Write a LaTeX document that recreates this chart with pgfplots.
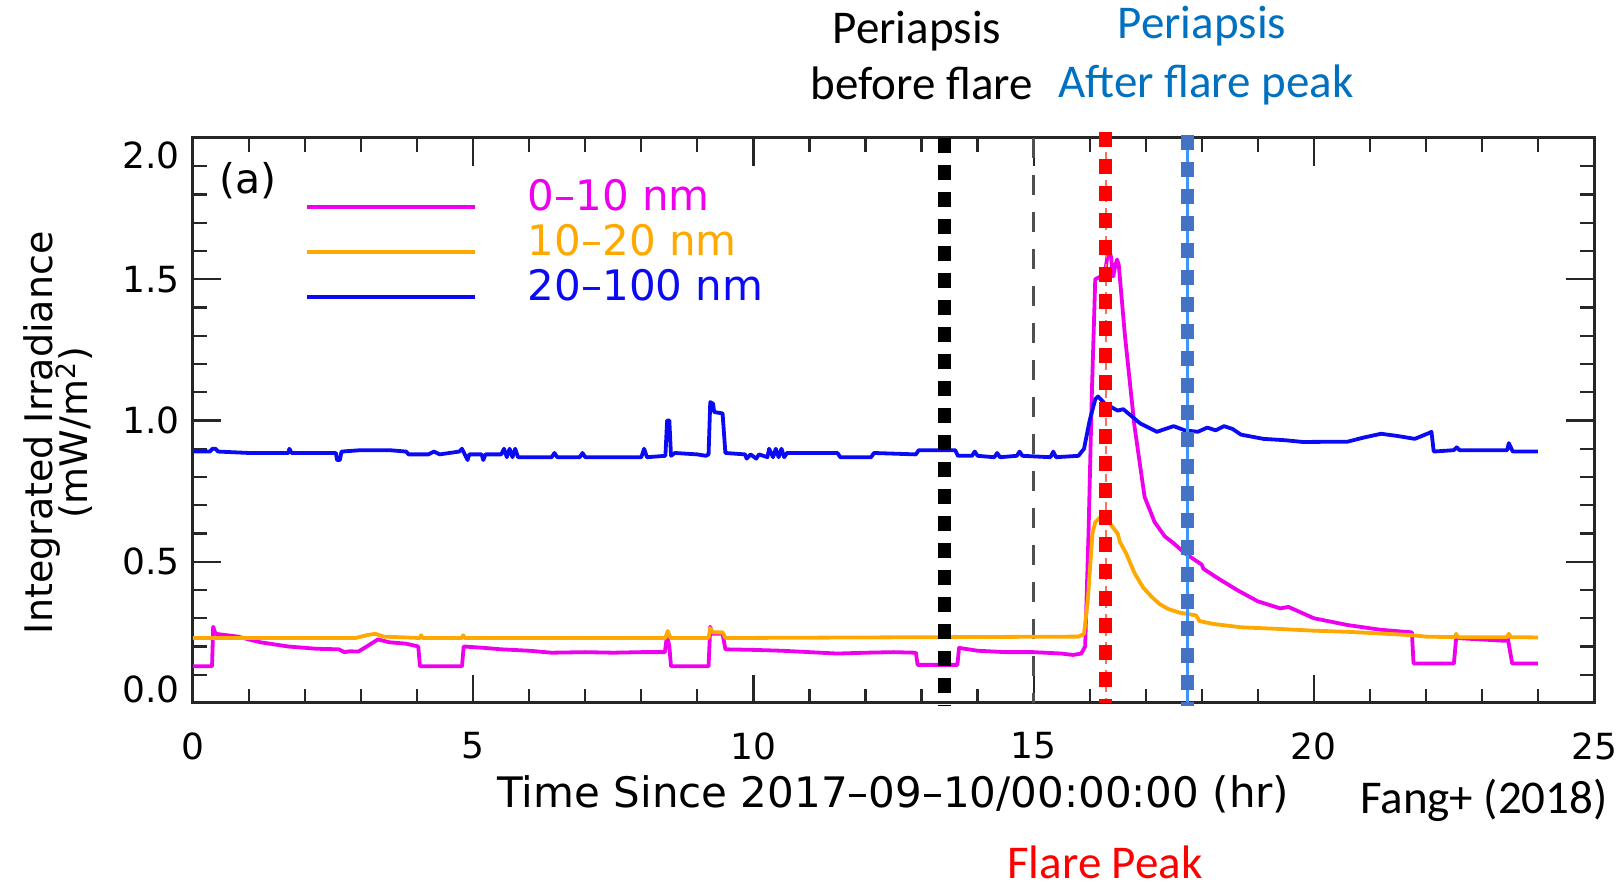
\documentclass[border=0pt]{standalone}
\usepackage{pgfplots}
\pgfplotsset{compat=1.18}
\usepackage{fontspec}
\setmainfont{DejaVu Sans}
\newfontfamily\calibrifont{Carlito}
\definecolor{mag}{RGB}{238,0,238}
\definecolor{orng}{RGB}{255,168,0}
\definecolor{blu}{RGB}{10,10,245}
\definecolor{offblue}{RGB}{68,114,196}
\definecolor{lightblue}{RGB}{60,150,255}
\definecolor{txtblue}{RGB}{0,112,192}
\definecolor{lightred}{RGB}{255,110,90}
\definecolor{dgray}{RGB}{80,80,80}
\begin{document}
\begin{tikzpicture}
\path[use as bounding box] (-95.5pt,-94.5pt) rectangle (715.5pt,351.5pt);
\begin{axis}[
  at={(1pt,0pt)}, anchor=south west,
  width=700.5pt, height=282.5pt, scale only axis,
  xmin=0, xmax=25, ymin=0, ymax=2,
  clip=false,
  xtick={0,5,...,25}, xticklabels={0,5,10,15,20,25},
  ytick={0,0.5,1,1.5,2},
  yticklabels={\raisebox{6.7pt}[\height][\depth]{0.0},0.5,1.0,1.5,\raisebox{-8.8pt}[\height][\depth]{2.0}},
  minor x tick num=4, minor y tick num=4,
  tick align=inside, xtick pos=both, ytick pos=both,
  major tick length=14pt, minor tick length=7pt,
  every tick/.style={black!85, line width=1.1pt},
  axis line style={black!85, line width=1.5pt},
  tick label style={font=\fontsize{18pt}{20pt}\selectfont},
  xticklabel style={inner sep=0pt, yshift=-14.5pt},
  yticklabel style={inner sep=0pt, xshift=-6.5pt},
  xlabel={Time Since 2017--09--10/00:00:00 (hr)},
  xlabel style={font=\fontsize{21pt}{24pt}\selectfont, at={(axis description cs:0.5,0)}, anchor=base, yshift=-52.5pt, inner sep=0pt},
  ylabel={Integrated Irradiance\\[-3.5pt](mW/m\textsuperscript{2})},
  ylabel style={font=\fontsize{19pt}{18pt}\selectfont, align=center, at={(axis description cs:-0.0713,0.478)}, anchor=south, inner sep=0pt},
  legend style={draw=none, fill=none, at={(axis cs:2.0,1.852)}, anchor=north west, inner sep=0pt, outer sep=0pt, row sep=5.4pt, column sep=25.5pt, font=\fontsize{21pt}{24pt}\selectfont, nodes={inner sep=0pt}},
  legend cell align=left,
  legend image code/.code={\draw[#1] (0pt,-5pt) -- (84pt,-5pt);},
]
% gray dashed line at 15 h
\addplot[dgray, line width=1.6pt, dash pattern=on 10pt off 8.5pt, forget plot] coordinates {(15.0,2) (15.0,0)};

\addplot[mag, line width=1.9pt, line join=round] coordinates {
(0,0.13) (0.34,0.13) (0.36,0.27) (0.4,0.245) (0.8,0.235) (1.2,0.215) (1.7,0.2) (2.2,0.192) (2.6,0.19) (2.7,0.18) (2.8,0.183) (2.95,0.182) (3.1,0.2) (3.3,0.225) (3.5,0.215) (3.8,0.21) (4.02,0.2) (4.05,0.13) (4.8,0.13) (4.83,0.2) (5.2,0.195) (5.5,0.19) (6.0,0.185) (6.4,0.178) (7.0,0.18) (7.5,0.178) (8.0,0.18) (8.42,0.18) (8.46,0.24) (8.5,0.2) (8.53,0.13) (9.2,0.13) (9.23,0.27) (9.26,0.245) (9.45,0.245) (9.5,0.19) (10.0,0.188) (10.5,0.185) (11.0,0.18) (11.5,0.175) (12.0,0.178) (12.5,0.18) (12.9,0.178) (12.93,0.135) (13.64,0.135) (13.67,0.195) (14.0,0.185) (14.5,0.18) (15.0,0.18) (15.5,0.175) (15.7,0.17) (15.85,0.175) (15.92,0.2) (15.98,0.6) (16.04,1.1) (16.1,1.5) (16.2,1.51) (16.27,1.52) (16.34,1.61) (16.38,1.58) (16.42,1.51) (16.46,1.55) (16.49,1.57) (16.52,1.55) (16.63,1.3) (16.8,0.98) (16.98,0.73) (17.16,0.64) (17.34,0.59) (17.5,0.565) (17.7,0.53) (17.85,0.51) (18.0,0.49) (18.03,0.475) (18.3,0.44) (18.63,0.40) (19.0,0.36) (19.4,0.335) (19.55,0.34) (20.0,0.3) (20.6,0.276) (21.2,0.259) (21.75,0.25) (21.78,0.14) (22.5,0.14) (22.54,0.23) (23.42,0.22) (23.46,0.23) (23.54,0.14) (24.0,0.14)
};
\addlegendentry{\textcolor{mag}{0--10 nm}}

\addplot[orng, line width=1.9pt, line join=round] coordinates {
(0,0.23) (2.9,0.23) (3.1,0.24) (3.25,0.245) (3.4,0.235) (4.05,0.23) (4.07,0.24) (4.1,0.23) (4.8,0.23) (4.82,0.24) (4.85,0.23) (8.43,0.23) (8.47,0.255) (8.52,0.23) (9.2,0.23) (9.23,0.265) (9.28,0.25) (9.45,0.25) (9.5,0.23) (15.8,0.235) (15.9,0.245) (15.97,0.37) (16.05,0.6) (16.1,0.64) (16.18,0.655) (16.3,0.655) (16.42,0.62) (16.5,0.6) (16.54,0.57) (16.65,0.53) (16.8,0.46) (16.95,0.41) (17.1,0.377) (17.25,0.35) (17.4,0.333) (17.6,0.32) (17.9,0.31) (17.96,0.29) (18.2,0.28) (18.7,0.268) (19.4,0.262) (20.0,0.256) (20.6,0.252) (21.2,0.246) (21.75,0.24) (22.0,0.235) (22.52,0.233) (22.54,0.245) (22.57,0.233) (23.45,0.233) (23.48,0.245) (23.52,0.233) (24.0,0.232)
};
\addlegendentry{\textcolor{orng}{10--20 nm}}

\addplot[blu, line width=1.9pt, line join=round] coordinates {
(0,0.89) (0.3,0.89) (0.35,0.9) (0.4,0.9) (0.45,0.89) (1.0,0.885) (1.7,0.885) (1.72,0.90) (1.76,0.885) (2.55,0.885) (2.57,0.86) (2.62,0.86) (2.65,0.89) (3.0,0.895) (3.5,0.895) (3.8,0.89) (3.85,0.88) (4.2,0.88) (4.3,0.89) (4.4,0.88) (4.75,0.89) (4.8,0.9) (4.85,0.88) (4.9,0.86) (4.93,0.88) (5.15,0.88) (5.18,0.86) (5.22,0.88) (5.5,0.88) (5.55,0.9) (5.6,0.87) (5.65,0.9) (5.7,0.87) (5.75,0.9) (5.8,0.87) (6.4,0.87) (6.45,0.885) (6.5,0.87) (6.9,0.87) (6.95,0.885) (7.0,0.87) (8.0,0.87) (8.05,0.9) (8.1,0.87) (8.43,0.875) (8.46,1.0) (8.5,1.0) (8.53,0.875) (8.6,0.885) (9.0,0.88) (9.15,0.875) (9.2,0.88) (9.23,1.065) (9.28,1.06) (9.3,1.03) (9.45,1.025) (9.5,0.885) (9.85,0.88) (9.88,0.865) (9.95,0.88) (10.05,0.865) (10.1,0.88) (10.25,0.87) (10.28,0.9) (10.35,0.87) (10.4,0.9) (10.45,0.87) (10.5,0.9) (10.55,0.87) (10.6,0.885) (11.5,0.885) (11.55,0.87) (12.1,0.87) (12.15,0.885) (12.9,0.88) (12.95,0.895) (13.6,0.895) (13.65,0.875) (13.9,0.875) (13.95,0.89) (14.0,0.875) (14.3,0.87) (14.35,0.885) (14.4,0.87) (14.7,0.875) (14.75,0.89) (14.8,0.875) (15.3,0.87) (15.35,0.89) (15.4,0.87) (15.8,0.875) (15.9,0.9) (16.0,1.0) (16.1,1.075) (16.15,1.085) (16.27,1.06) (16.5,1.035) (16.6,1.04) (16.9,0.99) (17.2,0.96) (17.5,0.98) (17.7,0.965) (17.93,0.96) (18.1,0.975) (18.25,0.965) (18.4,0.98) (18.55,0.97) (18.7,0.95) (19.1,0.935) (19.5,0.93) (19.8,0.924) (20.6,0.925) (20.9,0.94) (21.2,0.953) (21.5,0.945) (21.8,0.935) (22.05,0.955) (22.1,0.96) (22.14,0.89) (22.5,0.895) (22.55,0.905) (22.6,0.895) (23.45,0.895) (23.48,0.92) (23.55,0.89) (24.0,0.89)
};
\addlegendentry{\textcolor{blu}{20--100 nm}}

% periapsis before flare
\addplot[black, line width=6.5pt, dash pattern=on 7.5pt off 6pt, forget plot] coordinates {(13.41,2.0) (13.41,-0.01)};
% flare peak
\addplot[lightred, line width=1.2pt, dash pattern=on 4pt off 3pt, forget plot] coordinates {(16.29,2.0) (16.29,0)};
\addplot[red, line width=6.5pt, dash pattern=on 7.5pt off 6pt, forget plot] coordinates {(16.29,2.02) (16.29,0)};
% periapsis after flare peak
\addplot[lightblue, line width=1.5pt, forget plot] coordinates {(17.75,2.0) (17.75,0)};
\addplot[offblue, line width=6.5pt, dash pattern=on 7.5pt off 6pt, forget plot] coordinates {(17.75,2.01) (17.75,-0.01)};

\node[anchor=west, inner sep=0pt, font=\fontsize{20.5pt}{22pt}\selectfont] at (axis cs:0.46,1.848) {(a)};
\end{axis}
\begin{scope}[every node/.style={inner sep=0pt, anchor=base, font=\calibrifont\fontsize{23.5pt}{26pt}\selectfont}]
\node at (363pt,329.75pt) {Periapsis};
\node at (365.5pt,301.5pt) {before flare};
\node[text=txtblue] at (505.5pt,332pt) {Periapsis};
\node[text=txtblue] at (507.5pt,302.5pt) {After flare peak};
\node[text=red] at (457pt,-88pt) {Flare Peak};
\node at (646.5pt,-55.5pt) {Fang+ (2018)};
\end{scope}
\end{tikzpicture}
\end{document}
